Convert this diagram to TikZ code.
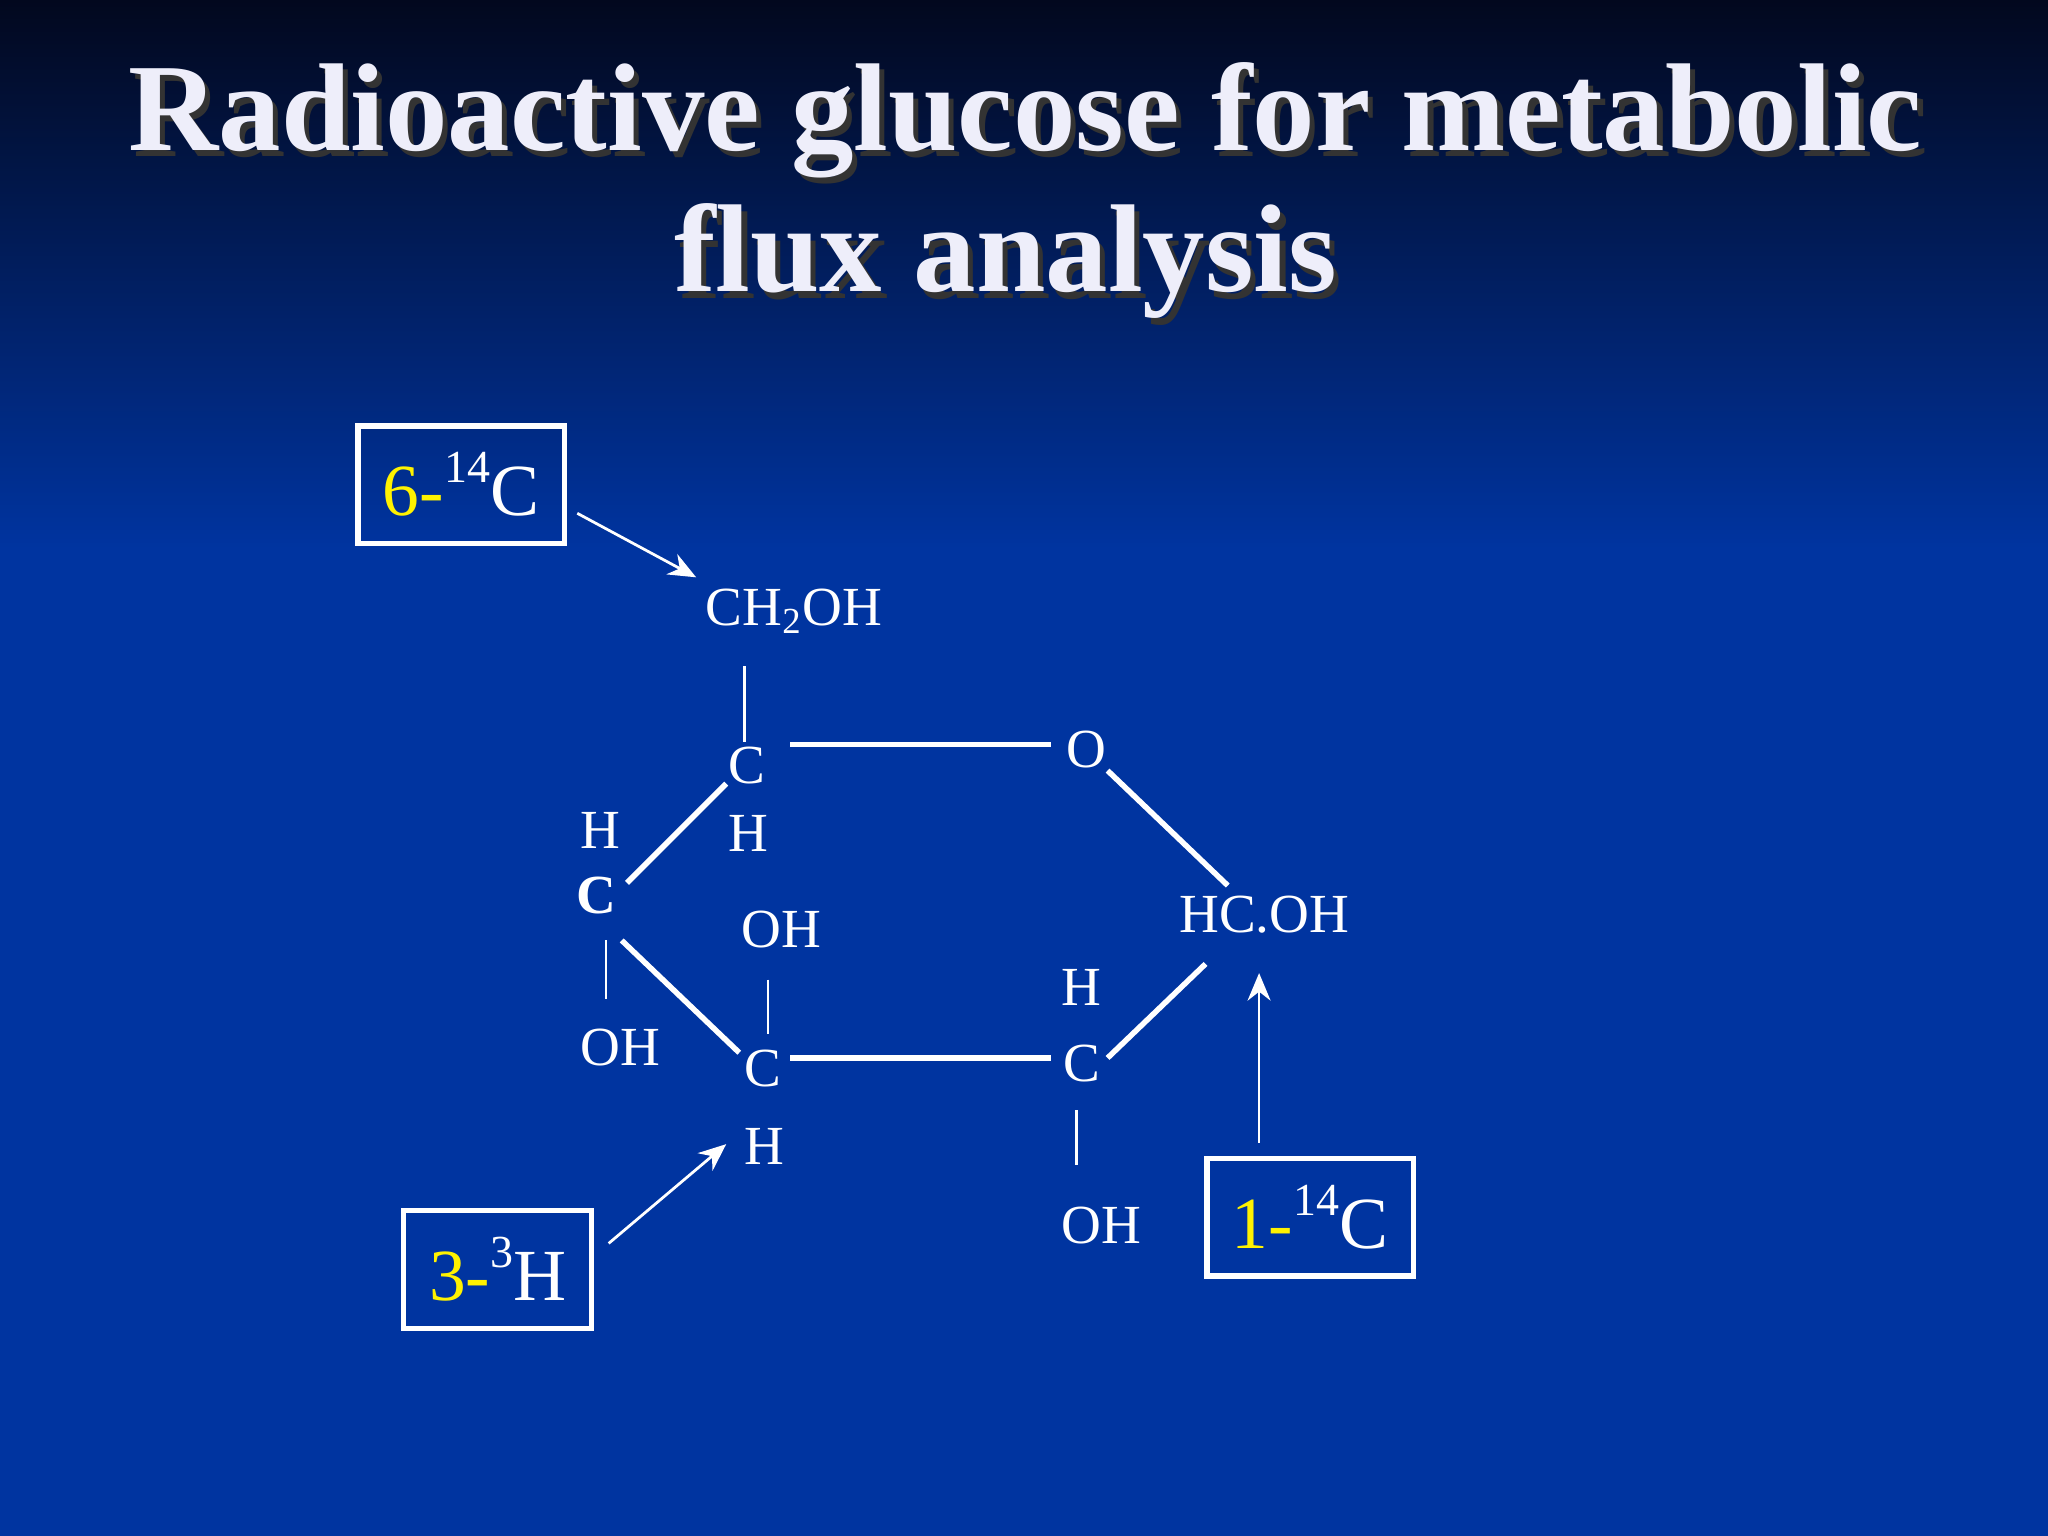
\documentclass[tikz,border=0pt]{standalone}
\usepackage{fontspec}
\setmainfont{Liberation Serif}
\usetikzlibrary{arrows.meta}
\definecolor{topc}{RGB}{2,8,30}
\definecolor{botc}{RGB}{0,52,160}
\definecolor{ttl}{RGB}{238,238,250}
\tikzset{
 bond/.style={draw=white,line width=1.2pt},
 vbond/.style={draw=white,line width=0.6pt},
 atom/.style={text=white,font=\fontsize{12}{12}\selectfont,inner sep=0pt},
 lab/.style={draw=white,line width=1.2pt,text=white,font=\fontsize{16}{16}\selectfont,minimum width=1.58cm,minimum height=0.9cm},
 arr/.style={draw=white,line width=0.6pt,-{Stealth[length=6pt,width=5pt]}},
 ttlf/.style={font=\bfseries\fontsize{27.2}{27.2}\selectfont}
}
\newcommand{\sups}[1]{\raisebox{0.45em}{\fontsize{10}{10}\selectfont #1}}
\begin{document}
\begin{tikzpicture}[x=0.01cm,y=-0.01cm]
\useasboundingbox (0,0) rectangle (1568,1176);
\fill[botc] (0,0) rectangle (1568,1176);
\shade[top color=topc,bottom color=botc] (0,0) rectangle (1568,420);
\node[ttlf,text=black!80] at (789,97) {Radioactive glucose for metabolic};
\node[ttlf,text=ttl] (t1) at (785,92) {Radioactive glucose for metabolic};
\node[ttlf,text=black!80] at (774,205) {flux analysis};
\node[ttlf,text=ttl] (t2) at (770,200) {flux analysis};
% atoms
\node[atom] (ch2oh) at (608,468) {CH\textsubscript{2}OH};
\node[atom] (c5) at (572,586) {C};
\node[atom] (o) at (832,574) {O};
\node[atom] (hcoh) at (968,700) {HC.OH};
\node[atom] (h5) at (573,638) {H};
\node[atom] (h4) at (460,636) {H};
\node[atom,font=\bfseries\fontsize{12}{12}\selectfont] (c4) at (457,686) {C};
\node[atom] (oh4) at (475,802) {OH};
\node[atom] (c3) at (584,818) {C};
\node[atom] (oh3) at (598,712) {OH};
\node[atom] (h3) at (585,878) {H};
\node[atom] (c2) at (828,814) {C};
\node[atom] (h2) at (828,756) {H};
\node[atom] (oh2) at (843,938) {OH};
% bonds
\draw[vbond] (570,510) -- (570,568);
\draw[bond] (605,570) -- (805,570);
\draw[bond] (848,590) -- (940,678);
\draw[bond] (556,600) -- (480,676);
\draw[vbond] (464,720) -- (464,765);
\draw[bond] (476,720) -- (566,806);
\draw[vbond] (588,750) -- (588,792);
\draw[bond] (605,810) -- (805,810);
\draw[bond] (848,810) -- (923,738);
\draw[vbond] (824,850) -- (824,892);
% labels
\node[lab] (b6) at (353,371) {\textcolor{yellow}{6-}\sups{14}C};
\node[lab,minimum width=1.44cm] (b3) at (381,972) {\textcolor{yellow}{3-}\sups{3}H};
\node[lab] (b1) at (1003,932) {\textcolor{yellow}{1-}\sups{14}C};
\coordinate (a6s) at (442,393); \coordinate (a6e) at (533,442);
\coordinate (a3s) at (466,952); \coordinate (a3e) at (556,876);
\coordinate (a1s) at (964,875); \coordinate (a1e) at (964,745);
\draw[arr] (a6s) -- (a6e);
\draw[arr] (a3s) -- (a3e);
\draw[arr] (a1s) -- (a1e);
\end{tikzpicture}
\end{document}
